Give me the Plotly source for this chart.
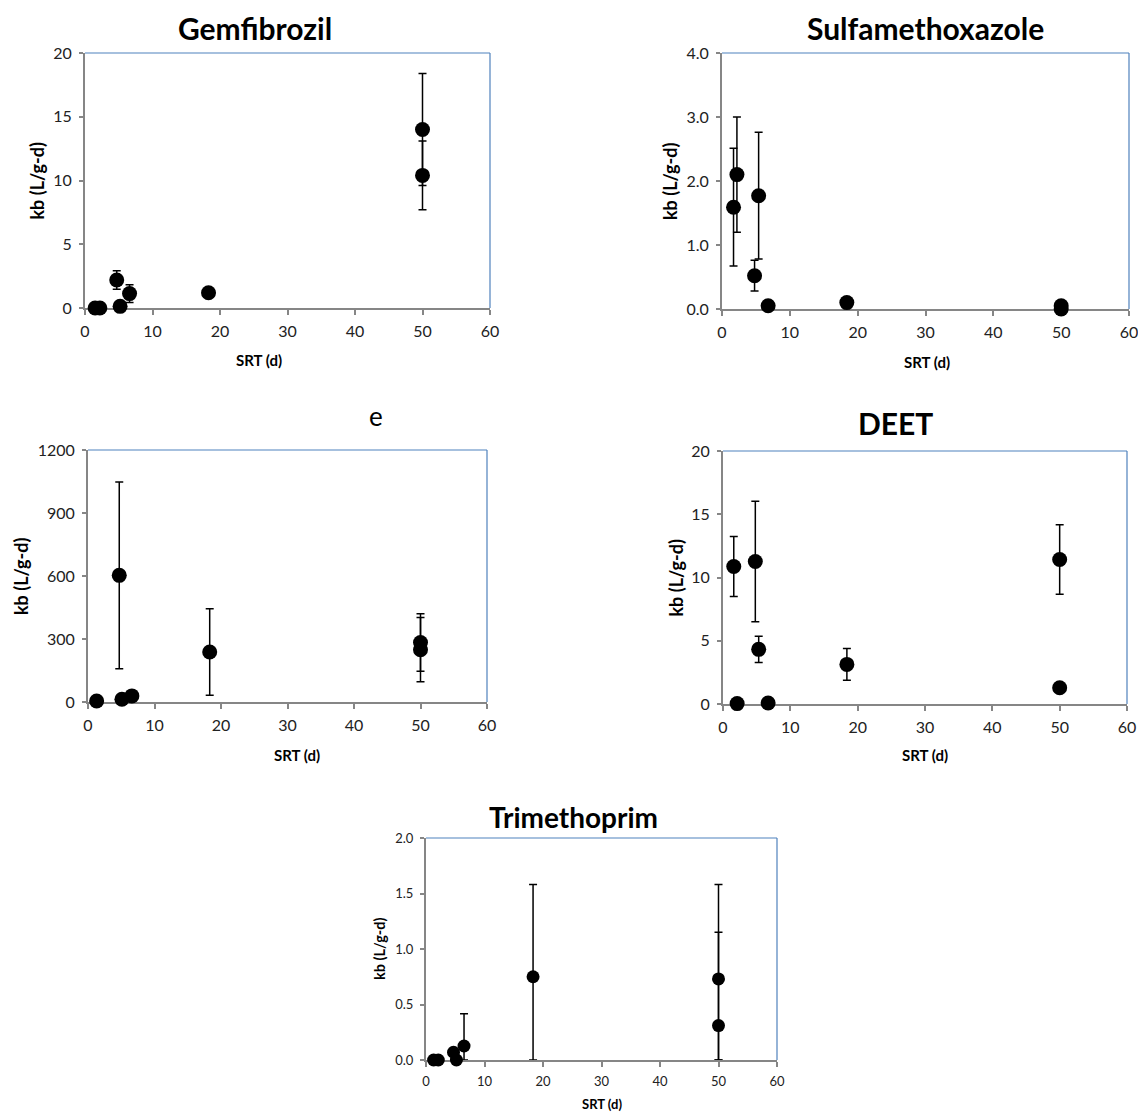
import plotly.graph_objects as go

W, H = 1138, 1112

# ---------------- data ----------------
gem_x = [1.5, 2.2, 4.7, 5.2, 6.6, 18.3, 50.0, 50.0]
gem_y = [0.0, 0.0, 2.2, 0.13, 1.13, 1.2, 14.0, 10.4]
gem_err = [0.0, 0.0, 0.72, 0.0, 0.7, 0.0, 4.4, 2.7]

sul_x = [1.7, 2.2, 4.8, 5.4, 6.8, 18.4, 50.0, 50.0]
sul_y = [1.59, 2.10, 0.52, 1.77, 0.05, 0.10, 0.05, 0.0]
sul_err = [0.92, 0.90, 0.24, 0.99, 0.0, 0.0, 0.0, 0.0]

e_x = [1.3, 2.2, 4.7, 5.1, 6.6, 18.3, 50.0, 50.0]
e_y = [5, -8, 603, 13, 29, 238, 283, 249]
e_err = [0, 0, 445, 0, 0, 206, 137, 153]

deet_x = [1.6, 2.1, 4.8, 5.3, 6.7, 18.4, 50.0, 50.0]
deet_y = [10.87, 0.03, 11.26, 4.32, 0.08, 3.13, 11.42, 1.29]
deet_err = [2.37, 0.0, 4.76, 1.03, 0.0, 1.25, 2.75, 0.0]

tri_x = [1.3, 2.1, 4.7, 5.2, 6.5, 18.3, 50.0, 50.0]
tri_y = [0.0, 0.0, 0.07, 0.0, 0.126, 0.75, 0.73, 0.31]
tri_err = [0.0, 0.0, 0.0, 0.0, 0.29, 0.83, 0.85, 0.84]

x_ticks = [0, 10, 20, 30, 40, 50, 60]

# ---------------- layout helpers ----------------
def px_x(p):
    return p / W

def px_y(p):
    return 1 - p / H

FONT = "Lato, Open Sans, sans-serif"
AXIS_GRAY = "#868686"
BORDER_BLUE = "#4f81bd"

panels = [
    dict(x=gem_x, y=gem_y, err=gem_err, box=(85, 490, 53, 308), yr=[0, 20], dt=5, fmt="",
         title="Gemfibrozil", tpos=(255, 28), bold=True, ytx=37, xtp=(259, 360),
         tfs=16, xfs=15, yfs=18, ttl=30, ms=15),
    dict(x=sul_x, y=sul_y, err=sul_err, box=(722, 1129, 53, 309), yr=[0, 4], dt=1, fmt=".1f",
         title="Sulfamethoxazole", tpos=(925, 28), bold=True, ytx=670, xtp=(927, 362),
         tfs=16, xfs=15, yfs=18, ttl=30, ms=15),
    dict(x=e_x, y=e_y, err=e_err, box=(88, 487, 450, 702), yr=[0, 1200], dt=300, fmt="",
         title="e", tpos=(376, 416), bold=False, ytx=21, xtp=(297, 755),
         tfs=16, xfs=15, yfs=18, ttl=26, ms=15),
    dict(x=deet_x, y=deet_y, err=deet_err, box=(723, 1127, 451, 704), yr=[0, 20], dt=5, fmt="",
         title="DEET", tpos=(895, 423), bold=True, ytx=675, xtp=(925, 755),
         tfs=16, xfs=15, yfs=18, ttl=30, ms=15),
    dict(x=tri_x, y=tri_y, err=tri_err, box=(426, 777, 838, 1060), yr=[0, 2], dt=0.5, fmt=".1f",
         title="Trimethoprim", tpos=(573, 817), bold=True, ytx=379, xtp=(602, 1104),
         tfs=13, xfs=13, yfs=14.5, ttl=28, ms=13),
]

fig = go.Figure()
annotations = []
shapes = []

for i, p in enumerate(panels):
    n = "" if i == 0 else str(i + 1)
    xa, ya = "x" + n, "y" + n
    L, R, T, B = p["box"]
    # lower error bars stop at the x axis (clipped by the plot area in the original)
    minus = [min(e, v) if v - e < p["yr"][0] and v > 0 else e for v, e in zip(p["y"], p["err"])]
    fig.add_trace(go.Scatter(
        x=p["x"], y=p["y"], mode="markers", xaxis=xa, yaxis=ya,
        marker=dict(color="black", size=p["ms"]),
        error_y=dict(type="data", array=p["err"], arrayminus=minus, symmetric=False,
                     color="black", thickness=1.5, width=4, visible=True),
        cliponaxis=False, showlegend=False, hoverinfo="x+y",
    ))
    fig.layout["xaxis" + n] = dict(
        domain=[px_x(L), px_x(R)], anchor=ya, range=[0, 60], tickvals=x_ticks,
        showline=True, linecolor=AXIS_GRAY, linewidth=2, ticks="outside", ticklen=5,
        tickcolor=AXIS_GRAY, tickwidth=1.5, showgrid=False, zeroline=False,
        tickfont=dict(family=FONT, size=p["tfs"], color="#222"), layer="below traces",
        fixedrange=True, automargin=False, ticklabelstandoff=3,
        ticklabeloverflow="allow",
    )
    fig.layout["yaxis" + n] = dict(
        domain=[px_y(B), px_y(T)], anchor=xa, range=p["yr"], dtick=p["dt"], tick0=0,
        tickformat=p["fmt"], showline=True, linecolor=AXIS_GRAY, linewidth=2,
        ticks="outside", ticklen=4, tickcolor=AXIS_GRAY, tickwidth=1.5,
        showgrid=False, zeroline=False,
        tickfont=dict(family=FONT, size=p["tfs"], color="#222"), layer="below traces",
        fixedrange=True, automargin=False, ticklabelstandoff=4,
        ticklabeloverflow="allow",
    )
    shapes.append(dict(type="line", xref="paper", yref="paper",
                       x0=px_x(L), x1=px_x(R), y0=px_y(T), y1=px_y(T),
                       line=dict(color=BORDER_BLUE, width=1.2), layer="below"))
    shapes.append(dict(type="line", xref="paper", yref="paper",
                       x0=px_x(R), x1=px_x(R), y0=px_y(T), y1=px_y(B),
                       line=dict(color=BORDER_BLUE, width=1.2), layer="below"))
    t = "<b>%s</b>" % p["title"] if p["bold"] else p["title"]
    annotations.append(dict(text=t, xref="paper", yref="paper",
                            x=px_x(p["tpos"][0]), y=px_y(p["tpos"][1]),
                            xanchor="center", yanchor="middle", showarrow=False,
                            font=dict(family=FONT, size=p["ttl"], color="black")))
    annotations.append(dict(text="<b>kb (L/g-d)</b>", xref="paper", yref="paper",
                            x=px_x(p["ytx"]), y=px_y((T + B) / 2), textangle=-90,
                            xanchor="center", yanchor="middle", showarrow=False,
                            font=dict(family=FONT, size=p["yfs"], color="black")))
    annotations.append(dict(text="<b>SRT (d)</b>", xref="paper", yref="paper",
                            x=px_x(p["xtp"][0]), y=px_y(p["xtp"][1]),
                            xanchor="center", yanchor="middle", showarrow=False,
                            font=dict(family=FONT, size=p["xfs"], color="black")))

fig.update_layout(
    width=W, height=H, margin=dict(l=0, r=0, t=0, b=0, autoexpand=False),
    paper_bgcolor="white", plot_bgcolor="white",
    annotations=annotations, shapes=shapes, showlegend=False,
)

fig.write_html("out.html", config={"displayModeBar": False})
